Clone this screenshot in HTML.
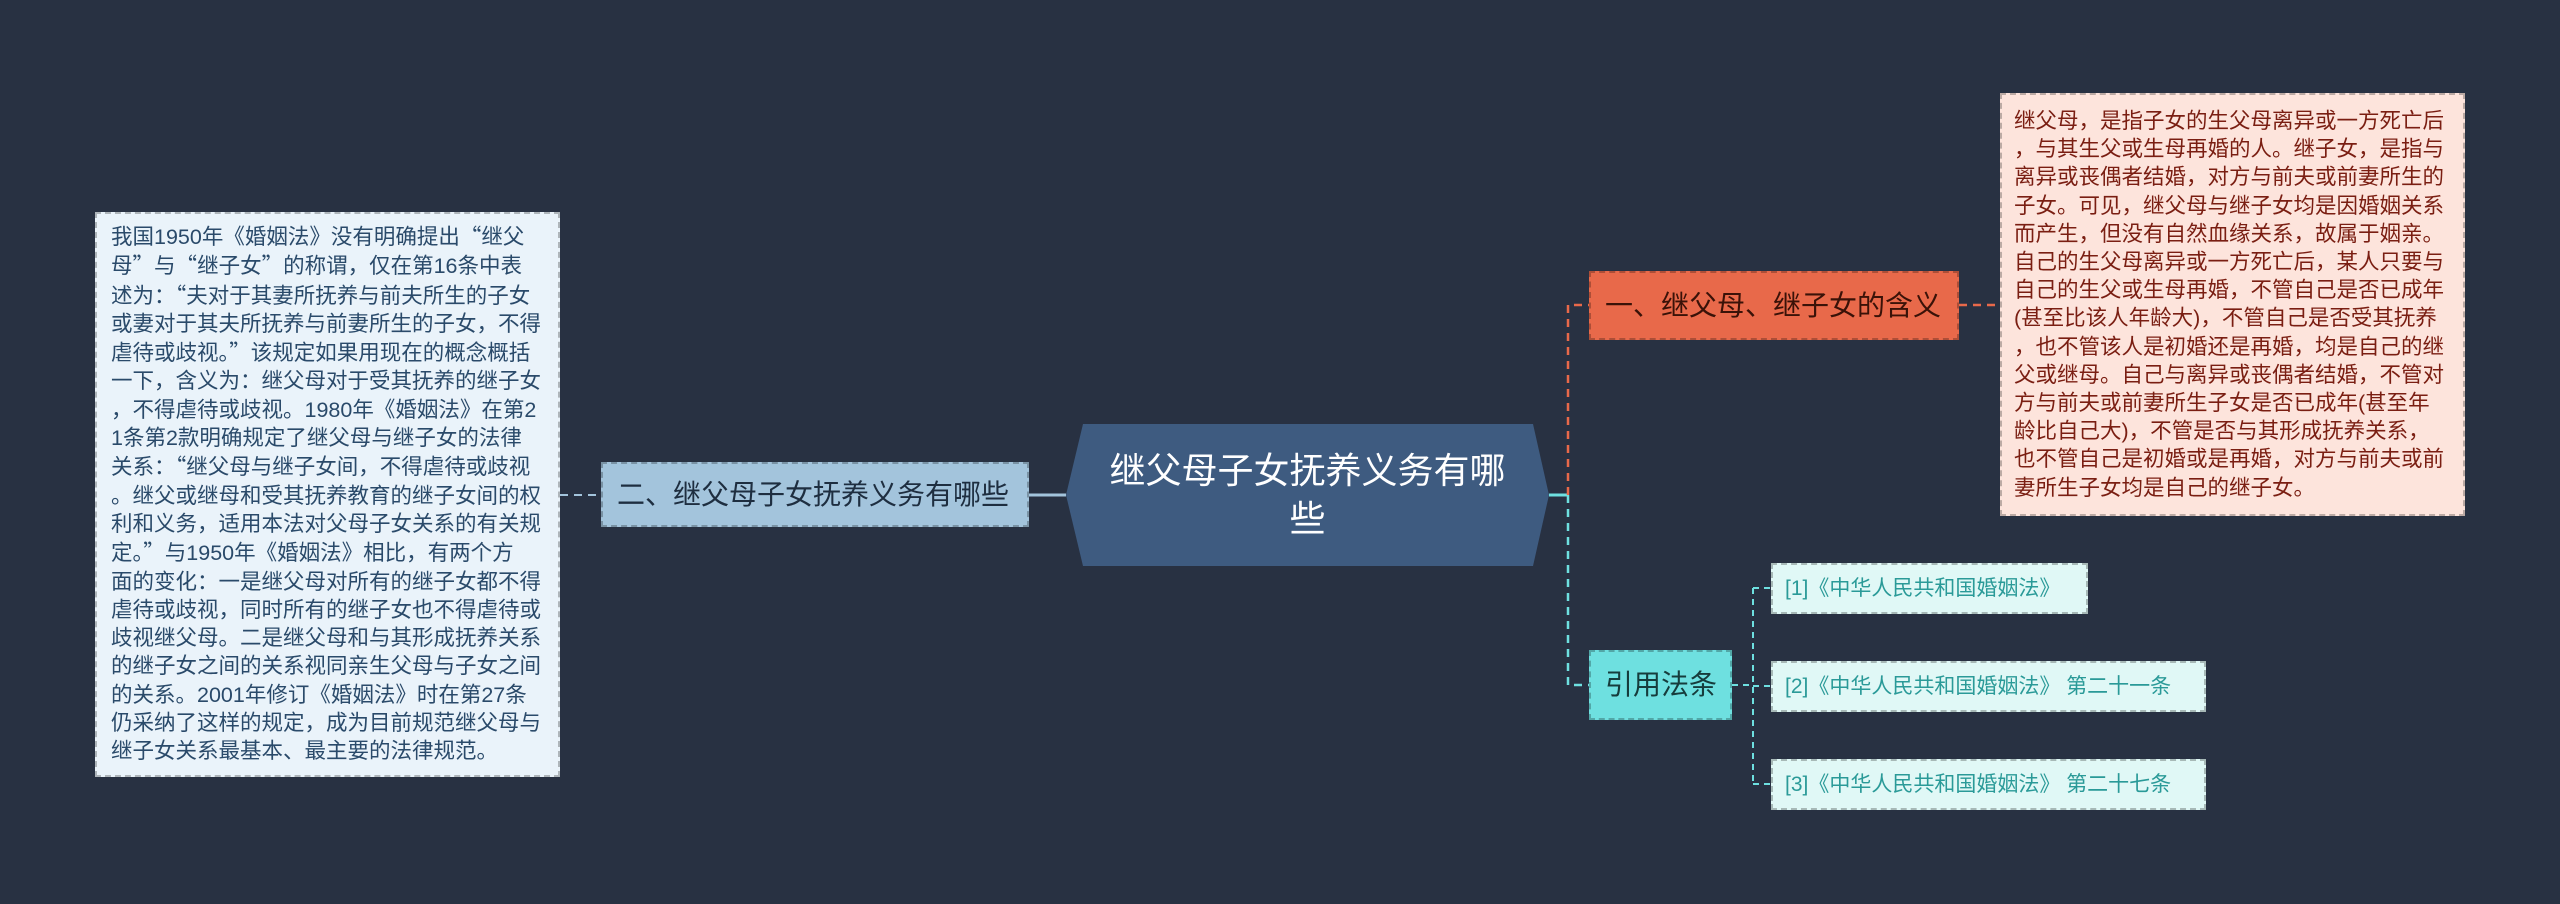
<!DOCTYPE html>
<html><head><meta charset="utf-8"><style>
*{margin:0;padding:0;box-sizing:border-box}
body{width:2560px;height:904px;background:#283142;position:relative;overflow:hidden;font-family:"Liberation Sans","Noto Sans CJK SC",sans-serif}
.n{position:absolute;white-space:nowrap}
.box{position:absolute;border:2px dashed rgba(0,0,0,0.25);white-space:nowrap;font-size:21px;line-height:26.4px;padding:8px 10px}
.q{font-family:"Noto Sans CJK SC",sans-serif}
</style></head><body>
<svg width="2560" height="904" style="position:absolute;left:0;top:0">
<polygon points="1083,424 1533,424 1549,495 1533,566 1083,566 1066,495" fill="#3e5b80"/>
<line x1="1029" y1="495" x2="1066" y2="495" stroke="#a3c4dc" stroke-width="3"/>
<line x1="560" y1="495" x2="601" y2="495" stroke="#a3c4dc" stroke-width="2" stroke-dasharray="8,6"/>
<line x1="1549" y1="495" x2="1568" y2="495" stroke="#6ee0e0" stroke-width="3"/>
<path d="M1568,495 V305 H1589" fill="none" stroke="#e8694a" stroke-width="2.5" stroke-dasharray="8,6"/>
<line x1="1959" y1="305" x2="2000" y2="305" stroke="#e8694a" stroke-width="2.5" stroke-dasharray="8,6"/>
<path d="M1568,495 V685 H1589" fill="none" stroke="#6ee0e0" stroke-width="2.5" stroke-dasharray="8,6"/>
<path d="M1732,685 H1753 M1753,588 V784 M1753,588 H1771 M1753,686 H1771 M1753,784 H1771" fill="none" stroke="#6ee0e0" stroke-width="2" stroke-dasharray="6,5"/>
</svg>
<div class="n" style="left:1066px;top:424px;width:483px;height:142px;color:#fff;font-size:36px;line-height:48px;text-align:center;padding-top:23px">继父母子女抚养义务有哪<br>些</div>
<div class="box" style="left:95px;top:212px;width:465px;height:565px;background:#eaf3fa;color:#2a4a6a;font-size:21.5px;line-height:28.3px;padding:8px 14px">我国1950年《婚姻法》没有明确提出<span class="q">“</span>继父<br>母<span class="q">”</span>与<span class="q">“</span>继子女<span class="q">”</span>的称谓，仅在第16条中表<br>述为：<span class="q">“</span>夫对于其妻所抚养与前夫所生的子女<br>或妻对于其夫所抚养与前妻所生的子女，不得<br>虐待或歧视。<span class="q">”</span>该规定如果用现在的概念概括<br>一下，含义为：继父母对于受其抚养的继子女<br>，不得虐待或歧视。1980年《婚姻法》在第2<br>1条第2款明确规定了继父母与继子女的法律<br>关系：<span class="q">“</span>继父母与继子女间，不得虐待或歧视<br>。继父或继母和受其抚养教育的继子女间的权<br>利和义务，适用本法对父母子女关系的有关规<br>定。<span class="q">”</span>与1950年《婚姻法》相比，有两个方<br>面的变化：一是继父母对所有的继子女都不得<br>虐待或歧视，同时所有的继子女也不得虐待或<br>歧视继父母。二是继父母和与其形成抚养关系<br>的继子女之间的关系视同亲生父母与子女之间<br>的关系。2001年修订《婚姻法》时在第27条<br>仍采纳了这样的规定，成为目前规范继父母与<br>继子女关系最基本、最主要的法律规范。</div>
<div class="box" style="left:601px;top:462px;width:428px;height:65px;background:#a3c4dc;color:#1e2e40;font-size:28px;line-height:61px;padding:0 0 0 14px">二、继父母子女抚养义务有哪些</div>
<div class="box" style="left:1589px;top:271px;width:370px;height:69px;background:#e8694a;color:#3a1208;font-size:28px;line-height:65px;padding:0 0 0 14px">一、继父母、继子女的含义</div>
<div class="box" style="left:2000px;top:93px;width:465px;height:423px;background:#fde4dc;color:#7a1e12;font-size:21.5px;line-height:28.2px;padding:12px 10px 0 12px">继父母，是指子女的生父母离异或一方死亡后<br>，与其生父或生母再婚的人。继子女，是指与<br>离异或丧偶者结婚，对方与前夫或前妻所生的<br>子女。可见，继父母与继子女均是因婚姻关系<br>而产生，但没有自然血缘关系，故属于姻亲。<br>自己的生父母离异或一方死亡后，某人只要与<br>自己的生父或生母再婚，不管自己是否已成年<br>(甚至比该人年龄大)，不管自己是否受其抚养<br>，也不管该人是初婚还是再婚，均是自己的继<br>父或继母。自己与离异或丧偶者结婚，不管对<br>方与前夫或前妻所生子女是否已成年(甚至年<br>龄比自己大)，不管是否与其形成抚养关系，<br>也不管自己是初婚或是再婚，对方与前夫或前<br>妻所生子女均是自己的继子女。</div>
<div class="box" style="left:1589px;top:650px;width:143px;height:70px;background:#6ee0e0;color:#163c3c;font-size:28px;line-height:66px;padding:0 0 0 14px">引用法条</div>
<div class="box" style="left:1771px;top:563px;width:317px;height:51px;background:#e0f8f6;color:#2a9a98;font-size:21px;line-height:47px;padding:0 0 0 12px">[1]《中华人民共和国婚姻法》</div>
<div class="box" style="left:1771px;top:661px;width:435px;height:51px;background:#e0f8f6;color:#2a9a98;font-size:21px;line-height:47px;padding:0 0 0 12px">[2]《中华人民共和国婚姻法》 第二十一条</div>
<div class="box" style="left:1771px;top:759px;width:435px;height:51px;background:#e0f8f6;color:#2a9a98;font-size:21px;line-height:47px;padding:0 0 0 12px">[3]《中华人民共和国婚姻法》 第二十七条</div>
</body></html>
